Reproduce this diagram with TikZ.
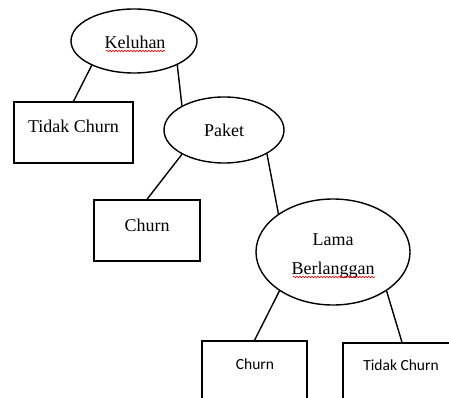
\documentclass[tikz,border=0pt]{standalone}
\usepackage{fontspec}
\setmainfont{Liberation Serif}
\newfontfamily\calib{Carlito}
\usetikzlibrary{shapes.geometric,decorations.pathmorphing}
\begin{document}
\begin{tikzpicture}[x=1pt,y=-1pt,
  oval/.style={draw,ellipse,inner sep=0pt,line width=1.4pt},
  boxnode/.style={draw,rectangle,inner sep=0pt,line width=1.4pt},
  serif/.style={font=\fontsize{18}{29}\selectfont,inner sep=0pt,align=center},
  sans/.style={font=\calib\fontsize{15.5}{18}\selectfont,inner sep=0pt},
  edge/.style={draw,line width=1.4pt},
  spell/.style={draw=red,line width=0.6pt,decorate,decoration={snake,segment length=3pt,amplitude=0.8pt}}]
\useasboundingbox (0,0) rectangle (449,398);
\clip (0,0) rectangle (449,398);
\fill[white] (0,0) rectangle (449,398);
% ellipses
\node[oval,minimum width=126,minimum height=64] (kel) at (134,41) {};
\node[serif] (kelt) at (135,42) {Keluhan};
\node[oval,minimum width=120,minimum height=66] (pak) at (224,130) {};
\node[serif] (pakt) at (224,130) {Paket};
\node[oval,minimum width=154,minimum height=106] (lama) at (333,252) {};
\node[serif] (lamat) at (333,256) {Lama\\Berlanggan};
% boxes
\node[boxnode,minimum width=119,minimum height=61] (tc1) at (73.5,132.5) {};
\node[serif] (tc1t) at (73.5,126) {Tidak Churn};
\node[boxnode,minimum width=106,minimum height=61] (ch1) at (147,230.5) {};
\node[serif] (ch1t) at (147,225) {Churn};
\node[boxnode,minimum width=105,minimum height=61] (ch2) at (254.5,371.5) {};
\node[sans] (ch2t) at (255,364) {Churn};
\node[boxnode,minimum width=118,minimum height=61] (tc2) at (402,373.5) {};
\node[sans] (tc2t) at (401,365) {Tidak Churn};
% connectors
\draw[edge] (kel.210) -- (tc1.north);
\draw[edge] (kel.-29) -- (pak.150);
\draw[edge] (pak.210) -- (ch1.north);
\draw[edge] (pak.-29) -- (lama.145);
\draw[edge] (lama.216) -- (ch2.north);
\draw[edge] (lama.-36) -- (tc2.north);
% spell-check underlines
\coordinate (k1) at (106,51); \coordinate (k2) at (165,51);
\coordinate (b1) at (293,277); \coordinate (b2) at (375,277);
\draw[spell] (k1) -- (k2);
\draw[spell] (b1) -- (b2);
\end{tikzpicture}
\end{document}
